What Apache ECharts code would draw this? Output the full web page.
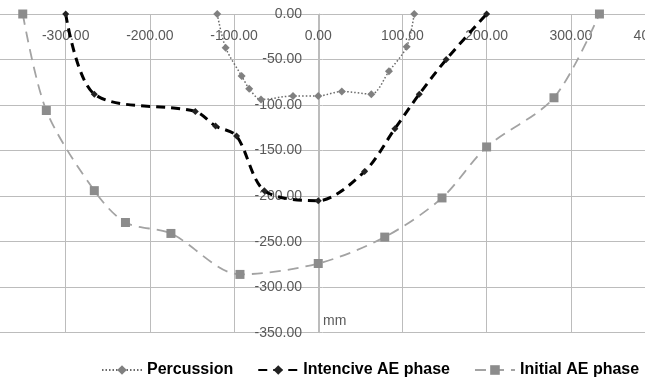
<!DOCTYPE html>
<html>
<head>
<meta charset="utf-8">
<script src="https://cdn.jsdelivr.net/npm/echarts@6/dist/echarts.min.js"></script>
<style>
  html, body { margin: 0; padding: 0; background: #fff; }
  #chart { width: 645px; height: 378px; }
</style>
</head>
<body>
<div id="chart"></div>
<script>
// 数据 (mm)
var percussion = [[-120, 0], [-110, -37], [-91, -68], [-82, -82], [-68, -94], [-30, -90], [0, -90], [28, -85], [63, -88], [84, -63], [105, -36], [114, 0]];
var intencive = [[-300, 0], [-266, -88], [-146, -107], [-122, -123], [-97, -134], [-64, -194], [0, -205], [55, -173], [91, -126], [120, -88], [152, -50], [200, 0]];
var initial = [[-351, 0], [-323, -106], [-266, -194], [-229, -229], [-175, -241], [-93, -286], [0, -274], [79, -245], [147, -202], [200, -146], [280, -92], [334, 0]];
var legendNames = ['Percussion', 'Intencive AE phase', 'Initial AE phase'];

var chart = echarts.init(document.getElementById('chart'));
var gridColor = '#bcbcbc';
var labelColor = '#595959';
var font = 'Liberation Sans, Arial, sans-serif';
var gridLeft = -18.5;

chart.setOption({
  animation: false,
  grid: {
    left: gridLeft, right: -10, top: 14, bottom: 45.3,
    outerBoundsMode: 'none'
  },
  legend: {
    data: legendNames,
    left: 96, top: 357,
    itemWidth: 40, itemHeight: 12, itemGap: 24,
    textStyle: { fontFamily: font, fontSize: 16, fontWeight: 'bold', color: '#000' }
  },
  xAxis: {
    type: 'value', position: 'top',
    min: -400, max: 400, interval: 100,
    axisLine: { onZero: false, lineStyle: { color: gridColor } },
    axisTick: { show: false },
    axisLabel: {
      inside: true, margin: 15, color: labelColor, fontFamily: font, fontSize: 14,
      showMinLabel: false,
      formatter: function (v) { return v.toFixed(2); }
    },
    splitLine: { lineStyle: { color: gridColor } }
  },
  yAxis: {
    type: 'value', position: 'left',
    // 把y轴移到 x=0 的位置
    offset: -(319 - gridLeft),
    min: -350, max: 0, interval: 50,
    axisLine: { show: true, onZero: false, lineStyle: { color: gridColor } },
    axisTick: { show: false },
    axisLabel: {
      margin: 17, color: labelColor, fontFamily: font, fontSize: 14,
      formatter: function (v) { return v.toFixed(2); }
    },
    splitLine: { lineStyle: { color: gridColor } }
  },
  graphic: [{
    type: 'text', left: 323, top: 314,
    style: { text: 'mm', fill: labelColor, font: '14px ' + font }
  }],
  series: [
    {
      name: legendNames[0], type: 'line', data: percussion, smooth: 0.3,
      symbol: 'diamond', symbolSize: 8,
      itemStyle: { color: '#808080' },
      lineStyle: { color: '#6a6a6a', width: 1.5, type: [1.5, 2] }
    },
    {
      name: legendNames[1], type: 'line', data: intencive, smooth: 0.3,
      symbol: 'diamond', symbolSize: 7,
      itemStyle: { color: '#222' },
      lineStyle: { color: '#000', width: 3, type: [9, 6] }
    },
    {
      name: legendNames[2], type: 'line', data: initial, smooth: 0.3,
      symbol: 'rect', symbolSize: 9,
      itemStyle: { color: '#8c8c8c' },
      lineStyle: { color: '#a3a3a3', width: 1.8, type: [11, 7] }
    }
  ]
});
</script>
</body>
</html>
